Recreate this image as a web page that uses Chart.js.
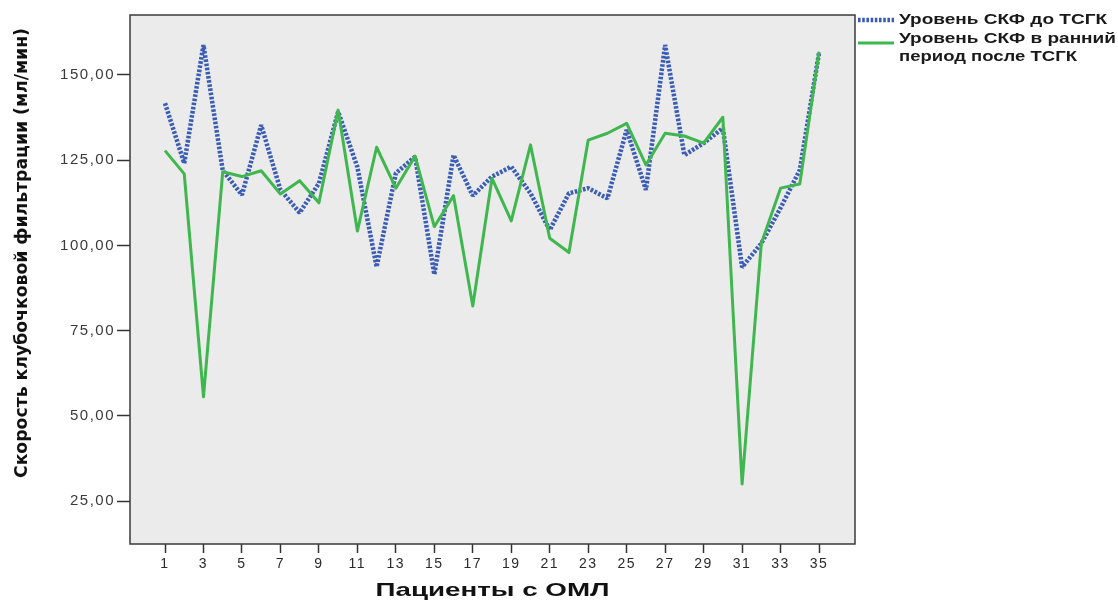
<!DOCTYPE html>
<html>
<head>
<meta charset="utf-8">
<script src="https://cdn.jsdelivr.net/npm/chart.js@4.4.1/dist/chart.umd.min.js"></script>
<style>
  html, body { margin: 0; padding: 0; background: #fff; }
  #wrap { width: 1118px; height: 600px; }
</style>
</head>
<body>
<div id="wrap"><canvas id="gfrChart" width="1118" height="600"></canvas></div>
<script>
// patient numbers
const patients = [1, 2, 3, 4, 5, 6, 7, 8, 9, 10, 11, 12, 13, 14, 15, 16, 17, 18,
  19, 20, 21, 22, 23, 24, 25, 26, 27, 28, 29, 30, 31, 32, 33, 34, 35];

// GFR before HSCT (dotted blue)
const gfrBefore = [141.7, 124.1, 158.8, 122.0, 114.8, 135.3, 116.3, 109.6, 118.2, 139.2,
  123.0, 93.7, 121.2, 126.0, 91.5, 126.5, 114.6, 120.2, 123.1, 115.3,
  104.5, 115.3, 116.8, 113.8, 133.9, 116.3, 158.8, 126.5, 130.0, 134.4,
  93.6, 100.6, 111.0, 122.1, 156.5];

// GFR early after HSCT (solid green)
const gfrAfter = [127.8, 121.0, 55.6, 121.6, 120.2, 121.9, 115.1, 119.0, 112.5, 139.7,
  104.2, 128.8, 116.8, 126.2, 105.5, 114.6, 82.2, 119.7, 107.2, 129.5,
  102.1, 97.9, 130.9, 132.9, 135.8, 123.6, 132.9, 132.1, 130.0, 137.6,
  30.0, 100.6, 116.8, 118.0, 156.8];

const xTickValues = [1, 3, 5, 7, 9, 11, 13, 15, 17, 19, 21, 23, 25, 27, 29, 31, 33, 35];
const yTickValues = [25, 50, 75, 100, 125, 150];

const legendText = [
  ['Уровень СКФ до ТСГК'],
  ['Уровень СКФ в ранний', 'период после ТСГК']
];
const xTitle = 'Пациенты с ОМЛ';
const yTitle = 'Скорость клубочковой фильтрации (мл/мин)';

const toPoints = (vals) => vals.map((v, i) => ({ x: patients[i], y: v }));

// draws text squeezed/stretched to a given width
function fitText(ctx, text, x, y, width) {
  const w = ctx.measureText(text).width;
  ctx.save();
  ctx.translate(x, y);
  ctx.scale(width / w, 1);
  ctx.fillText(text, 0, 0);
  ctx.restore();
}

const framePlugin = {
  id: 'frameAndText',
  beforeDraw(chart) {
    const { ctx, chartArea: a } = chart;
    ctx.save();
    ctx.fillStyle = '#ebebeb';
    ctx.fillRect(a.left, a.top, a.right - a.left, a.bottom - a.top);
    ctx.restore();
    ctx.letterSpacing = '1.5px';
  },
  afterDraw(chart) {
    const { ctx, chartArea: a } = chart;
    ctx.letterSpacing = '0px';
    ctx.save();
    ctx.strokeStyle = '#3a3a3a';
    ctx.lineWidth = 1.5;
    ctx.strokeRect(a.left, a.top, a.right - a.left, a.bottom - a.top);

    // axis titles
    ctx.fillStyle = '#111';
    ctx.textAlign = 'left';
    ctx.textBaseline = 'middle';
    ctx.font = 'bold 19px "Liberation Sans", Arial, sans-serif';
    fitText(ctx, xTitle, (a.left + a.right) / 2 - 117, 591, 234);

    ctx.save();
    ctx.translate(22, 253);
    ctx.rotate(-Math.PI / 2);
    ctx.font = 'bold 18px "Liberation Sans Narrow", "DejaVu Sans Condensed", sans-serif';
    fitText(ctx, yTitle, -225, 0, 450);
    ctx.restore();

    // legend
    ctx.font = 'bold 15px "Liberation Sans", Arial, sans-serif';
    ctx.fillStyle = '#1a1a1a';
    const rows = [{ line: 20, text: [20], width: [208] }, { line: 43, text: [39, 57], width: [217, 178] }];
    chart.data.datasets.forEach((ds, i) => {
      ctx.save();
      ctx.strokeStyle = ds.borderColor;
      ctx.lineWidth = ds.borderWidth;
      ctx.setLineDash(ds.borderDash || []);
      ctx.beginPath();
      ctx.moveTo(a.right + 3, rows[i].line);
      ctx.lineTo(a.right + 39, rows[i].line);
      ctx.stroke();
      ctx.restore();
      legendText[i].forEach((t, j) => {
        fitText(ctx, t, a.right + 44, rows[i].text[j], rows[i].width[j]);
      });
    });
    ctx.restore();
  }
};

new Chart(document.getElementById('gfrChart'), {
  type: 'line',
  data: {
    datasets: [
      {
        label: legendText[0].join(' '),
        data: toPoints(gfrBefore),
        borderColor: '#3a5cb4',
        borderWidth: 4.5,
        borderDash: [2.6, 1.6],
        borderJoinStyle: 'bevel',
        pointRadius: 0,
        tension: 0,
        order: 1
      },
      {
        label: legendText[1].join(' '),
        data: toPoints(gfrAfter),
        borderColor: '#3fb64e',
        borderWidth: 3,
        borderJoinStyle: 'round',
        pointRadius: 0,
        tension: 0,
        order: 0
      }
    ]
  },
  options: {
    responsive: false,
    animation: false,
    layout: { padding: { top: 15, right: 263, left: 0, bottom: 0 } },
    plugins: {
      legend: { display: false },
      tooltip: { enabled: false }
    },
    scales: {
      x: {
        type: 'linear',
        min: -0.82,
        max: 36.87,
        afterBuildTicks: (s) => { s.ticks = xTickValues.map(v => ({ value: v })); },
        afterFit: (s) => { s.height = 56; },
        border: { display: false },
        grid: { drawOnChartArea: false, drawTicks: true, tickLength: 9, tickColor: '#333', tickWidth: 1.5 },
        ticks: {
          autoSkip: false,
          maxRotation: 0,
          padding: 3,
          color: '#2a2a2a',
          font: { family: '"Liberation Sans", Arial, sans-serif', size: 14 },
          callback: (v) => String(v)
        }
      },
      y: {
        min: 12.4,
        max: 167.6,
        afterBuildTicks: (s) => { s.ticks = yTickValues.map(v => ({ value: v })); },
        afterFit: (s) => { s.width = 130; },
        border: { display: false },
        grid: { drawOnChartArea: false, drawTicks: true, tickLength: 13, tickColor: '#333', tickWidth: 1.5 },
        ticks: {
          padding: 2,
          color: '#3a3a3a',
          font: { family: '"Liberation Sans", Arial, sans-serif', size: 15 },
          callback: (v) => v.toFixed(2).replace('.', ',')
        }
      }
    }
  },
  plugins: [framePlugin]
});
</script>
</body>
</html>
